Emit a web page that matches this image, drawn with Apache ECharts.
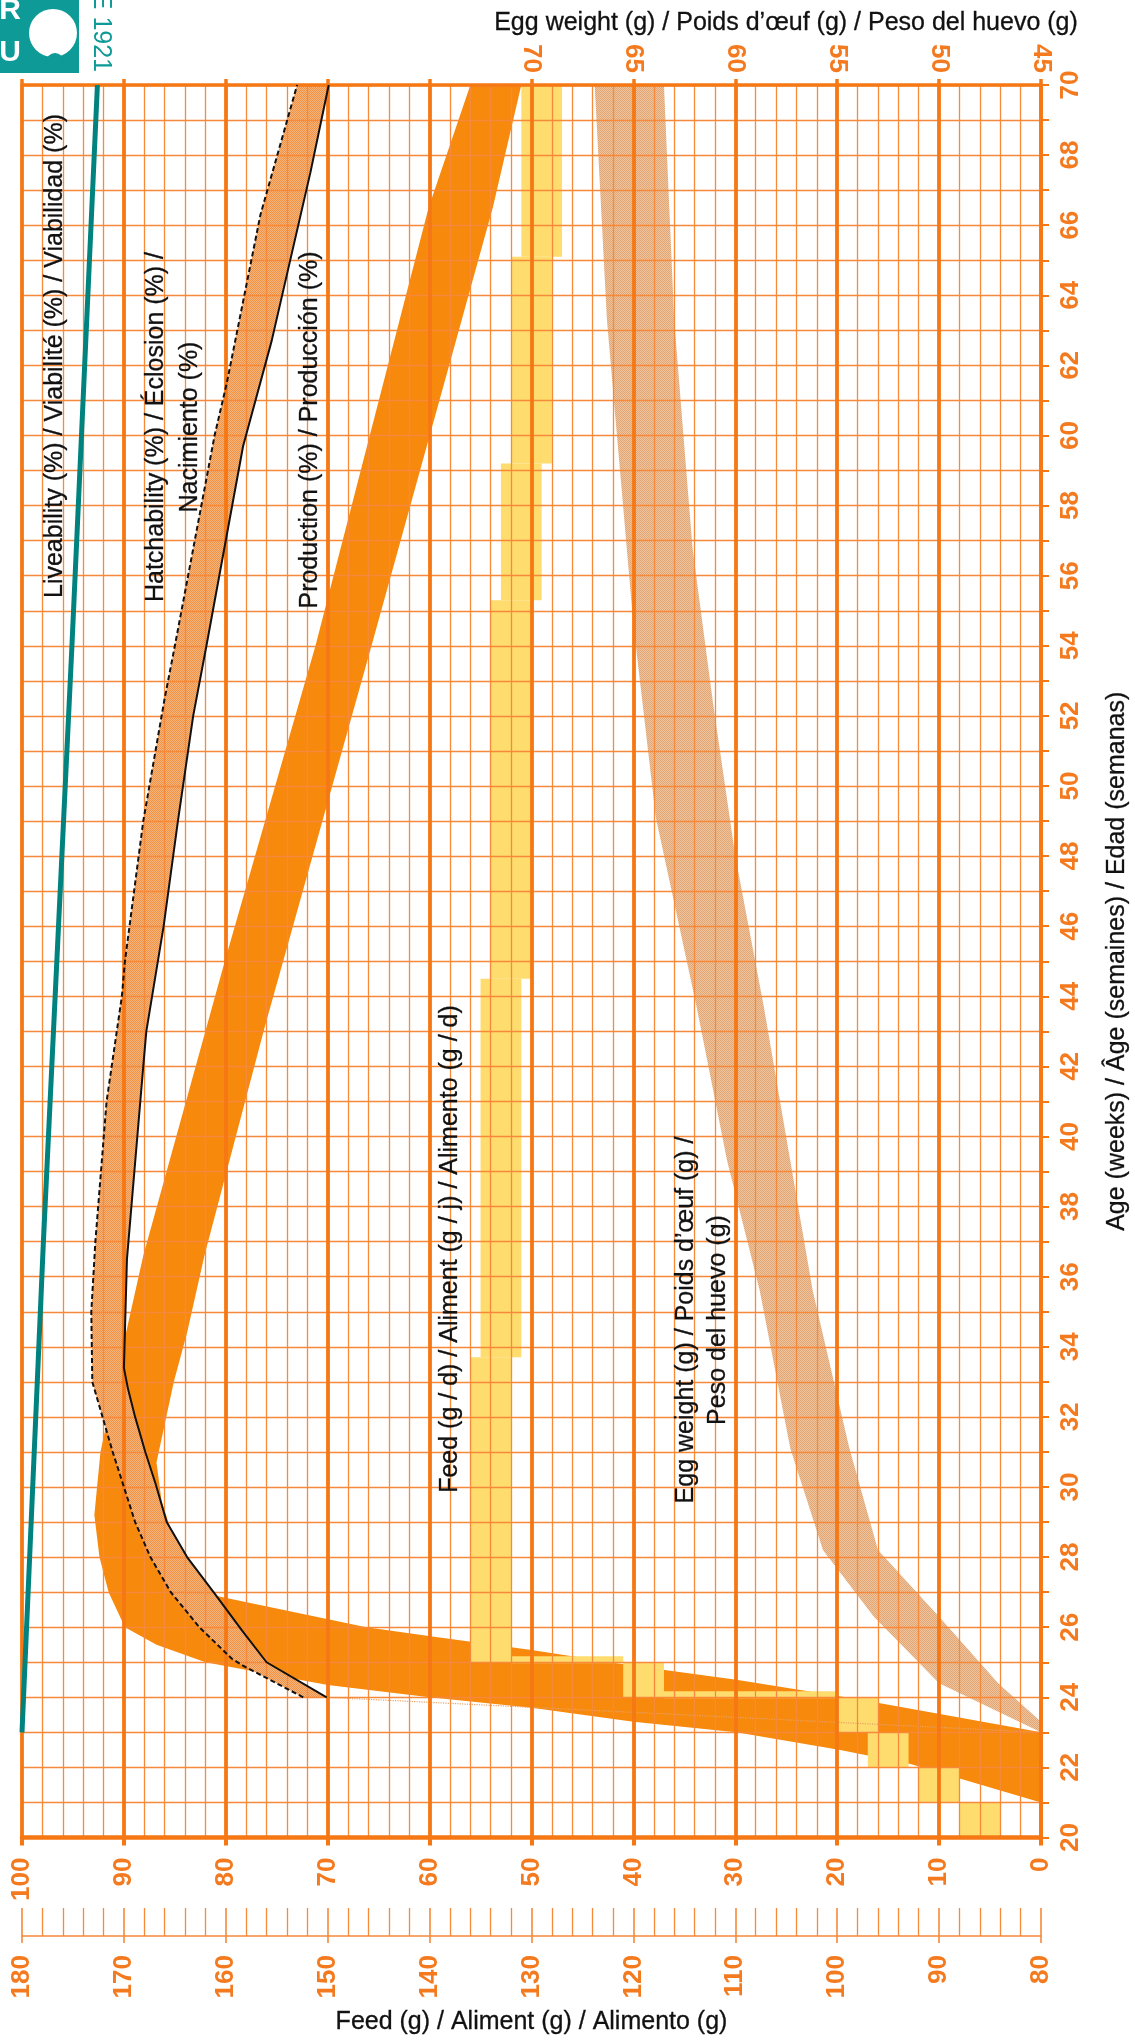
<!DOCTYPE html>
<html><head><meta charset="utf-8">
<script src="https://cdn.jsdelivr.net/npm/echarts@6/dist/echarts.min.js"></script>
<style>html,body{margin:0;padding:0;background:#fff;}#c{width:1135px;height:2040px;}</style>
</head><body><div id="c"></div>
<script>
// ---------------- data ----------------
// age (weeks) vs value pairs: [age, value]
const liveability = [[23,100],[37,97.9],[54,95.1],[70,92.6]];
const hatchHigh = [[24,72.4],[24.9,78.3],[25.1,79.4],[26,82.6],[27,85.4],[28,87.4],[29,88.9],[30,90.0],[31,91.1],[32,92.1],[33,93.1],[35,93.2],[37,92.8],[41,91.7],[44,90.2],[45,89.9],[49,88.1],[52.5,86.0],[54,85.0],[60,81.1],[61.5,79.9],[66.3,76.6],[70,73.0]];
const hatchLow = [[24,70.1],[25,76.0],[25.9,78.4],[27,81.2],[28,83.8],[29,85.8],[30.1,86.9],[31,87.9],[32,88.9],[32.8,89.6],[33.4,90.0],[36.5,89.7],[42,88.1],[43,87.8],[46,86.1],[49,84.7],[52,83.2],[54,81.9],[59.7,78.3],[62.7,75.5],[67.5,71.7],[70,69.9]];
const hatchLead = [[23,0],[24,70.1]];
const prodHigh = [[21,0],[22.1,12.8],[22.5,19.7],[23,29.9],[23.3,40],[23.7,50],[24,60],[24.35,70],[25,82],[25.5,86.8],[26,89.9],[27,91.5],[28,92.4],[29.2,92.9],[31,92.3],[34,90.1],[36.6,88.1],[45,80.1],[54,71.2],[66.5,60.1],[70,56]];
const prodLow = [[23,0],[23.95,18.1],[24.5,29.9],[24.9,40],[25.35,50],[25.75,60.1],[26,66.2],[26.9,81],[27.6,83.3],[28.6,85.2],[29.6,86.3],[30.7,86.8],[33,85.1],[34.4,83.8],[36.6,82.1],[43.1,76.2],[54,65.7],[66.5,53.8],[70,51]];
const feedStart = [20,21,22,23,24,25,33.7,44.5,55.3,59.2,65.1];
const feedEnd   = [21,22,23,24,25,33.7,44.5,55.3,59.2,65.1,70];
const feedMin   = [84,88,93,96,117,132,131,130,129,128,127];
const feedMax   = [88,92,97,100,121,136,135,134,133,132,131];
const eggHigh = [[23,45],[24.4,50],[26.3,53.2],[28.2,55.7],[31.1,57.3],[35.6,58.8],[39.3,60.4],[43.7,61.9],[49.1,63.9],[54.6,65.0],[63.3,66.3],[70,66.9]];
const eggLow = [[23.3,45],[24.4,47.1],[26.3,50.0],[28.2,53.0],[31.1,54.4],[35.6,56.2],[39.3,57.3],[43.7,58.6],[48,60.0],[52.4,61.1],[56.8,62.1],[63.3,63.0],[70,63.5]];

// ---------------- styles ----------------
const OR = '#F57814', ORL = '#F6893A', LBL = '#F47A1F';
const NARROW = "'Liberation Sans Narrow','Liberation Sans',Arial,sans-serif";

function pattern(bg, dot) {
  const c = document.createElement('canvas'); c.width = 2; c.height = 2;
  const g = c.getContext('2d'); g.fillStyle = bg; g.fillRect(0,0,2,2);
  g.fillStyle = dot; g.fillRect(0,0,1,1); g.fillRect(1,1,1,1);
  return {image: c, repeat: 'repeat'};
}
const swap = arr => arr.map(d => [d[1], d[0]]);

function band(name, xIdx, high, low, fill, z) {
  const pts = swap(high.concat(low.slice().reverse()));
  return {
    type: 'custom', name, xAxisIndex: xIdx, yAxisIndex: 0, z, silent: true,
    data: pts,
    renderItem: function (params, api) {
      if (params.dataIndex !== 0) return null;
      const cs = params.coordSys;
      return {
        type: 'polygon',
        shape: {points: pts.map(p => api.coord(p))},
        style: {fill: fill},
        clipPath: {type: 'rect', shape: {x: cs.x, y: cs.y, width: cs.width, height: cs.height}}
      };
    }
  };
}

const feedData = feedStart.map((s, i) => [s, feedEnd[i], feedMin[i], feedMax[i]]);
const feedSeries = {
  type: 'custom', name: 'Feed', xAxisIndex: 1, yAxisIndex: 0, z: 2, silent: true,
  data: feedData, encode: {x: [2, 3], y: [0, 1]},
  renderItem: function (params, api) {
    const i = params.dataIndex;
    const s = api.value(0), e = api.value(1), lo = api.value(2), hi = api.value(3);
    const rect = (a, b) => ({type: 'rect', shape: {x: Math.min(a[0], b[0]), y: Math.min(a[1], b[1]), width: Math.abs(a[0] - b[0]), height: Math.abs(a[1] - b[1])}, style: {fill: '#FFDC6E'}});
    const children = [rect(api.coord([lo, s]), api.coord([hi, e]))];
    if (i > 0 && lo > feedMax[i - 1] + 2) {
      children.push(rect(api.coord([feedMax[i - 1], s - 0.03]), api.coord([lo, s + 0.17])));
    }
    return {type: 'group', children};
  }
};

function lineSeries(name, data, color, width, type, z) {
  return {type: 'line', name, xAxisIndex: 0, yAxisIndex: 0, data: swap(data), symbol: 'none', z: z || 4, silent: true,
    lineStyle: {color, width, type: type || 'solid'}, clip: true, animation: false};
}

const lblStyle = {color: LBL, fontSize: 26, fontWeight: 'bold', fontFamily: NARROW, showMinLabel: true, showMaxLabel: true};
const nameStyle = {color: '#111', fontSize: 25, fontFamily: NARROW, textBorderColor: '#111', textBorderWidth: 0.3};
const txt = (x, y, text, lh) => ({type: 'text', x, y, rotation: Math.PI / 2, z: 11,
  style: {text, font: "25px " + NARROW, lineHeight: lh || 30, fill: '#111', stroke: '#111', lineWidth: 0.3, align: 'center', verticalAlign: 'middle'}});

const option = {
  animation: false,
  grid: {left: 22, right: 94, top: 85, bottom: 202.5, containLabel: false, outerBoundsMode: 'none'},
  xAxis: [
    { // percent
      type: 'value', min: 0, max: 100, interval: 10, inverse: true, position: 'bottom', z: 3,
      axisLine: {show: true, onZero: false, lineStyle: {color: OR, width: 4.5}},
      axisTick: {show: true, length: 8, lineStyle: {color: OR, width: 4}},
      minorTick: {show: false, splitNumber: 5},
      splitLine: {show: true, lineStyle: {color: OR, width: 3.8}},
      minorSplitLine: {show: true, lineStyle: {color: ORL, width: 1.3}},
      axisLabel: Object.assign({rotate: 90, margin: 20}, lblStyle)
    },
    { // feed
      type: 'value', min: 80, max: 180, interval: 10, inverse: true, position: 'bottom', offset: 98.5, z: 3,
      axisLine: {show: true, onZero: false, lineStyle: {color: ORL, width: 1.6}},
      axisTick: {show: true, inside: true, length: 28, lineStyle: {color: ORL, width: 1.6}},
      minorTick: {show: true, splitNumber: 5, length: 28, lineStyle: {color: ORL, width: 1.3}},
      splitLine: {show: false},
      axisLabel: Object.assign({rotate: 90, margin: 19}, lblStyle),
      name: 'Feed (g) / Aliment (g) / Alimento (g)', nameLocation: 'middle', nameGap: 74, nameMoveOverlap: false,
      nameTextStyle: nameStyle
    },
    { // egg weight
      type: 'value', min: 45, max: 95, interval: 5, inverse: true, position: 'top', z: 3,
      axisLine: {show: true, onZero: false, lineStyle: {color: OR, width: 3.5}},
      axisTick: {show: true, length: 6, lineStyle: {color: OR, width: 3.5}},
      splitLine: {show: false},
      axisLabel: Object.assign({rotate: 90, margin: 12, formatter: v => (v <= 70 ? String(v) : '')}, lblStyle),
      name: 'Egg weight (g) / Poids d’œuf (g) / Peso del huevo (g)', nameLocation: 'middle', nameGap: 49, nameMoveOverlap: false,
      nameTextStyle: Object.assign({padding: [0, 0, 0, 509]}, nameStyle)
    },
    { // feed ruler: major ticks below the ruler line
      type: 'value', min: 80, max: 180, interval: 10, inverse: true, position: 'bottom', offset: 98.5, z: 3,
      axisLine: {show: false}, axisTick: {show: true, length: 7, lineStyle: {color: ORL, width: 1.6}},
      axisLabel: {show: false}, splitLine: {show: false}
    }
  ],
  yAxis: [{
    type: 'value', min: 20, max: 70, interval: 2, position: 'right', z: 3,
    axisLine: {show: true, onZero: false, lineStyle: {color: OR, width: 3.5}},
    axisTick: {show: true, length: 8, lineStyle: {color: OR, width: 2}},
    minorTick: {show: true, splitNumber: 2, length: 8, lineStyle: {color: OR, width: 2}},
    splitLine: {show: true, lineStyle: {color: ORL, width: 1.3}},
    minorSplitLine: {show: true, lineStyle: {color: ORL, width: 1.3}},
    axisLabel: Object.assign({rotate: 90, margin: 17}, lblStyle),
    name: 'Age (weeks) / Âge (semaines) / Edad (semanas)', nameLocation: 'middle', nameRotate: 90, nameGap: 64, nameMoveOverlap: false,
    nameTextStyle: nameStyle
  }],
  series: [
    band('Production', 0, prodHigh, prodLow, '#F7890D', 1),
    feedSeries,
    band('Egg weight', 2, eggHigh, eggLow, pattern('#EFC49C', '#E0A676'), 2),
    band('Hatchability', 0, hatchHigh, hatchLow, pattern('#F7B47C', '#EE9246'), 2),
    lineSeries('Hatch lead', hatchLead, '#E8A264', 1.2, 'dotted', 2),
    lineSeries('Liveability', liveability, '#00827F', 5),
    lineSeries('Hatchability high', hatchHigh, '#111', 2, [5, 3]),
    lineSeries('Hatchability low', hatchLow, '#111', 2)
  ],
  graphic: [
    {type: 'rect', shape: {x: 0, y: 0, width: 79, height: 73}, style: {fill: '#0E9A96'}, z: 10},
    {type: 'circle', shape: {cx: 53, cy: 33, r: 24}, style: {fill: '#fff'}, z: 10},
    {type: 'circle', shape: {cx: 55, cy: 62, r: 9}, style: {fill: '#0E9A96'}, z: 10},
    {type: 'text', x: 10, y: 11, style: {text: 'R', font: "bold 30px " + NARROW, fill: '#fff', align: 'center', verticalAlign: 'middle'}, z: 11},
    {type: 'text', x: 10, y: 53, style: {text: 'U', font: "bold 30px " + NARROW, fill: '#fff', align: 'center', verticalAlign: 'middle'}, z: 11},
    {type: 'text', x: 101, y: 72, rotation: -Math.PI / 2, style: {text: 'E 1921', font: "25px " + NARROW, fill: '#0E9A96', align: 'right', verticalAlign: 'middle'}, z: 11},
    txt(55, 356, 'Liveability (%) / Viabilité (%) / Viabilidad (%)'),
    txt(173, 427, 'Hatchability (%) / Éclosion (%) /\nNacimiento (%)', 34),
    txt(310, 430, 'Production (%) / Producción (%)'),
    txt(450, 1249, 'Feed (g / d) / Aliment (g / j) / Alimento (g / d)'),
    txt(702, 1320, 'Egg weight (g) / Poids d’œuf (g) /\nPeso del huevo (g)', 32)
  ]
};

const chart = echarts.init(document.getElementById('c'), null, {renderer: 'canvas', width: 1135, height: 2040});
chart.setOption(option);
</script>
</body></html>
